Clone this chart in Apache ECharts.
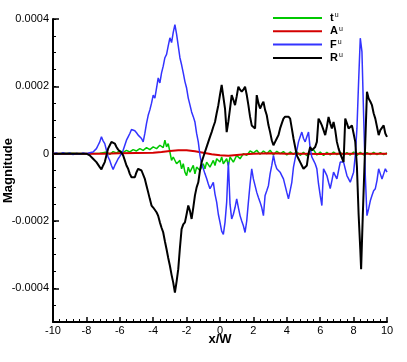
<!DOCTYPE html>
<html>
<head>
<meta charset="utf-8">
<script src="https://cdn.jsdelivr.net/npm/echarts@6/dist/echarts.min.js"></script>
<style>
  html, body { margin: 0; padding: 0; background: #fff; }
  #chart { width: 407px; height: 362px; }
</style>
</head>
<body>
<div id="chart"></div>
<script>
// values, y in units of 1e-4
var yUnit = 1e-4;
var xTicks = [-10, -8, -6, -4, -2, 0, 2, 4, 6, 8, 10];
var yTicks = [-0.0004, -0.0002, 0, 0.0002, 0.0004];
var seriesNames = ['t', 'A', 'F', 'R'];

var tData = [
  [-10, 0], [-9, 0.01], [-8, 0], [-7.2, 0.01], [-7.0, 0.03], [-6.8, 0.05], [-6.6, -0.02], [-6.4, 0.06],
  [-6.2, 0.02], [-6.0, 0.08], [-5.8, 0.04], [-5.6, 0.1], [-5.4, 0.05], [-5.2, 0.12], [-5.0, 0.08],
  [-4.8, 0.15], [-4.6, 0.1], [-4.4, 0.18], [-4.2, 0.12], [-4.0, 0.2], [-3.8, 0.15], [-3.6, 0.25],
  [-3.4, 0.18], [-3.3, 0.4], [-3.2, 0.2], [-3.1, 0.3], [-3.0, 0.05], [-2.9, -0.2], [-2.8, -0.1],
  [-2.6, -0.3], [-2.4, -0.2], [-2.3, -0.45], [-2.2, -0.3], [-2.1, -0.55], [-2.0, -0.65], [-1.9, -0.4],
  [-1.8, -0.55], [-1.6, -0.35], [-1.5, -0.6], [-1.4, -0.4], [-1.2, -0.5], [-1.0, -0.3], [-0.9, -0.45],
  [-0.8, -0.25], [-0.6, -0.4], [-0.4, -0.2], [-0.3, -0.35], [-0.2, -0.15], [0.0, -0.25], [0.1, -0.1],
  [0.2, -0.3], [0.4, -0.15], [0.5, -0.35], [0.6, -0.1], [0.8, -0.25], [1.0, -0.05], [1.2, -0.15],
  [1.4, 0.0], [1.6, -0.05], [1.8, 0.08], [2.0, 0.02], [2.2, 0.1], [2.4, -0.02], [2.6, 0.08], [2.8, 0.0],
  [3.0, 0.1], [3.2, -0.03], [3.4, 0.07], [3.6, 0.0], [3.8, 0.06], [4.0, -0.04], [4.2, 0.05], [4.4, -0.02],
  [4.6, 0.06], [4.8, -0.05], [5.0, 0.04], [5.2, -0.06], [5.4, 0.08], [5.6, 0.12], [5.8, -0.04], [6.0, 0.05],
  [6.2, -0.05], [6.4, 0.04], [6.6, -0.04], [6.8, 0.05], [7.0, -0.03], [7.2, 0.04], [7.4, -0.04], [7.6, 0.03],
  [7.8, -0.04], [8.0, 0.05], [8.2, -0.05], [8.4, 0.04], [8.6, -0.04], [8.8, 0.03], [9.0, -0.03], [9.2, 0.04],
  [9.4, -0.03], [9.6, 0.03], [9.8, -0.03], [10.0, 0.02]
];

var aData = [
  [-10, 0], [-7, 0], [-6, 0.01], [-5, 0.02], [-4, 0.03], [-3.5, 0.05], [-3, 0.08], [-2.5, 0.1],
  [-2, 0.1], [-1.5, 0.07], [-1, 0.03], [-0.5, -0.02], [0, -0.05], [0.5, -0.06], [1, -0.04],
  [1.5, -0.02], [2, 0], [3, 0.01], [4, 0], [5, 0], [6, -0.01], [7, 0], [8, 0], [9, 0], [10, 0]
];

var fData = [
  [-10, 0], [-9.8, 0.02], [-9.6, -0.02], [-9.4, 0.03], [-9.2, -0.01], [-9.0, 0.02], [-8.8, -0.03],
  [-8.6, 0.01], [-8.4, -0.02], [-8.2, 0.02], [-8.0, 0], [-7.8, 0.03], [-7.6, 0.05], [-7.4, 0.15],
  [-7.3, 0.25], [-7.2, 0.35], [-7.1, 0.5], [-7.0, 0.38], [-6.9, 0.3], [-6.8, 0.1], [-6.7, -0.1],
  [-6.6, -0.2], [-6.5, -0.35], [-6.4, -0.47], [-6.3, -0.35], [-6.2, -0.25], [-6.1, -0.15], [-6.0, -0.08],
  [-5.9, -0.03], [-5.8, 0.1], [-5.7, 0.25], [-5.6, 0.4], [-5.5, 0.5], [-5.4, 0.6], [-5.3, 0.72],
  [-5.2, 0.75], [-5.1, 0.68], [-5.0, 0.62], [-4.9, 0.55], [-4.8, 0.6], [-4.7, 0.45], [-4.6, 0.35],
  [-4.5, 0.6], [-4.4, 0.9], [-4.3, 1.14], [-4.2, 1.3], [-4.1, 1.5], [-4.0, 1.74], [-3.9, 1.65],
  [-3.8, 1.95], [-3.7, 2.25], [-3.6, 2.1], [-3.5, 2.4], [-3.4, 2.6], [-3.3, 2.85], [-3.2, 2.95],
  [-3.1, 3.2], [-3.0, 3.44], [-2.9, 3.3], [-2.8, 3.6], [-2.7, 3.83], [-2.6, 3.55], [-2.5, 3.2],
  [-2.4, 2.85], [-2.3, 2.64], [-2.2, 2.4], [-2.1, 2.14], [-2.0, 1.95], [-1.9, 1.65], [-1.8, 1.45],
  [-1.7, 1.24], [-1.6, 1.1], [-1.5, 0.94], [-1.4, 0.6], [-1.3, 0.35], [-1.2, -0.05], [-1.1, -0.3],
  [-1.0, -0.44], [-0.9, -0.6], [-0.8, -0.74], [-0.7, -0.9], [-0.6, -1.04], [-0.5, -0.95], [-0.4, -0.85],
  [-0.3, -1.2], [-0.2, -1.44], [-0.1, -1.8], [0.0, -2.04], [0.1, -2.3], [0.2, -2.4], [0.3, -2.04],
  [0.4, -1.44], [0.5, -0.25], [0.6, -1.5], [0.7, -1.94], [0.8, -1.8], [0.9, -1.6], [1.0, -1.34],
  [1.1, -1.6], [1.2, -1.84], [1.3, -2.0], [1.4, -2.14], [1.5, -2.34], [1.6, -2.0], [1.7, -1.44],
  [1.8, -0.9], [1.9, -0.45], [2.0, -0.75], [2.1, -0.95], [2.2, -1.15], [2.3, -1.3], [2.4, -1.44],
  [2.5, -1.6], [2.6, -1.84], [2.7, -1.24], [2.8, -1.1], [2.9, -0.95], [3.0, -0.6], [3.1, -0.35],
  [3.2, -0.05], [3.3, -0.3], [3.4, -0.45], [3.5, -0.5], [3.6, -0.55], [3.7, -0.65], [3.8, -0.75],
  [3.9, -0.95], [4.0, -1.15], [4.1, -1.34], [4.2, -1.1], [4.3, -0.85], [4.4, -0.4], [4.5, -0.15],
  [4.6, 0.1], [4.7, 0.35], [4.8, 0.5], [4.9, 0.64], [5.0, 0.45], [5.1, 0.35], [5.2, 0.5], [5.3, 0.64],
  [5.4, 0.15], [5.5, -0.1], [5.6, -0.2], [5.7, -0.3], [5.8, -0.45], [5.9, -0.9], [6.0, -1.24],
  [6.1, -1.54], [6.2, -0.45], [6.3, -0.55], [6.4, -0.65], [6.5, -0.85], [6.6, -1.04], [6.7, -0.8],
  [6.8, -0.55], [6.9, -0.65], [7.0, -0.75], [7.1, -0.5], [7.2, -0.25], [7.3, -0.2], [7.4, -0.25],
  [7.5, -0.45], [7.6, -0.65], [7.7, -0.75], [7.8, -0.85], [7.9, -0.7], [8.0, -0.55], [8.1, -0.05],
  [8.2, 0.75], [8.3, 2.14], [8.4, 3.43], [8.5, 3.03], [8.6, 1.14], [8.7, -0.65], [8.8, -1.84],
  [8.9, -1.64], [9.0, -1.4], [9.1, -1.24], [9.2, -1.1], [9.3, -1.04], [9.4, -0.8], [9.5, -0.45],
  [9.6, -0.6], [9.7, -0.75], [9.8, -0.6], [9.9, -0.45], [10.0, -0.55]
];

var rData = [
  [-10, 0], [-9, 0], [-8.0, 0], [-7.8, -0.05], [-7.6, -0.15], [-7.4, -0.25], [-7.3, -0.3], [-7.2, -0.4],
  [-7.1, -0.47], [-7.0, -0.35], [-6.9, -0.25], [-6.8, -0.05], [-6.7, 0.15], [-6.6, 0.25], [-6.5, 0.35],
  [-6.4, 0.4], [-6.3, 0.3], [-6.2, 0.2], [-6.1, 0.12], [-6.0, 0.08], [-5.9, 0.03], [-5.8, -0.05],
  [-5.7, -0.2], [-5.6, -0.35], [-5.5, -0.45], [-5.4, -0.6], [-5.3, -0.7], [-5.2, -0.73], [-5.1, -0.7],
  [-5.0, -0.55], [-4.9, -0.45], [-4.8, -0.4], [-4.7, -0.5], [-4.6, -0.55], [-4.5, -0.75], [-4.4, -0.95],
  [-4.3, -1.15], [-4.2, -1.35], [-4.1, -1.54], [-4.0, -1.6], [-3.9, -1.65], [-3.8, -1.74], [-3.7, -1.85],
  [-3.6, -2.04], [-3.5, -2.2], [-3.4, -2.34], [-3.3, -2.6], [-3.2, -2.84], [-3.1, -3.1], [-3.0, -3.33],
  [-2.9, -3.6], [-2.8, -3.83], [-2.7, -4.13], [-2.6, -3.8], [-2.5, -3.43], [-2.4, -2.8], [-2.3, -2.24],
  [-2.2, -2.1], [-2.1, -2.04], [-2.0, -1.8], [-1.9, -1.54], [-1.8, -1.7], [-1.7, -1.94], [-1.6, -1.6],
  [-1.5, -1.24], [-1.4, -1.0], [-1.3, -0.85], [-1.2, -0.5], [-1.1, -0.25], [-1.0, -0.1], [-0.9, -0.05],
  [-0.8, 0.2], [-0.7, 0.35], [-0.6, 0.5], [-0.5, 0.64], [-0.4, 0.8], [-0.3, 0.94], [-0.2, 1.2],
  [-0.1, 1.44], [0.0, 1.75], [0.1, 2.04], [0.2, 2.09], [0.3, 1.34], [0.4, 0.64], [0.5, 0.95], [0.6, 1.34],
  [0.7, 1.74], [0.8, 1.6], [0.9, 1.44], [1.0, 1.7], [1.1, 1.99], [1.2, 1.9], [1.3, 1.84], [1.4, 1.9],
  [1.5, 1.99], [1.6, 1.75], [1.7, 1.44], [1.8, 1.1], [1.9, 0.84], [2.0, 0.8], [2.1, 0.75], [2.2, 1.74],
  [2.3, 1.5], [2.4, 1.34], [2.5, 1.45], [2.6, 1.54], [2.7, 1.3], [2.8, 1.14], [2.9, 0.85], [3.0, 0.64],
  [3.1, 0.4], [3.2, 0.25], [3.3, 0.35], [3.4, 0.45], [3.5, 0.55], [3.6, 0.75], [3.7, 0.9], [3.8, 1.04],
  [3.9, 1.1], [4.0, 1.14], [4.1, 1.1], [4.2, 1.04], [4.3, 0.75], [4.4, 0.45], [4.5, 0.2], [4.6, -0.05],
  [4.7, -0.15], [4.8, -0.25], [4.9, -0.35], [5.0, -0.45], [5.1, -0.4], [5.2, -0.35], [5.3, 0.0],
  [5.4, 0.2], [5.5, 0.1], [5.6, 0.05], [5.7, 0.2], [5.8, 0.35], [5.9, 1.04], [6.0, 0.95], [6.1, 0.84],
  [6.2, 0.7], [6.3, 0.55], [6.4, 0.8], [6.5, 1.09], [6.6, 0.9], [6.7, 0.75], [6.8, 0.94], [6.9, 0.7],
  [7.0, 0.35], [7.1, 0.15], [7.2, 0.0], [7.3, -0.05], [7.4, -0.25], [7.5, 1.04], [7.6, 0.9], [7.7, 0.75],
  [7.8, 0.8], [7.9, 0.84], [8.0, 0.6], [8.1, 0.35], [8.2, -0.4], [8.3, -1.8], [8.4, -2.84], [8.45, -3.43],
  [8.55, -1.84], [8.7, 0.35], [8.8, 1.84], [8.9, 1.64], [9.0, 1.55], [9.1, 1.44], [9.2, 1.2], [9.3, 1.04],
  [9.4, 0.8], [9.5, 0.55], [9.6, 0.7], [9.7, 0.75], [9.8, 0.84], [9.9, 0.6], [10.0, 0.5]
];

function scaled(arr) {
  return arr.map(function (p) { return [p[0], p[1] * yUnit]; });
}

var myChart = echarts.init(document.getElementById('chart'));
var font = 'Liberation Sans, Arial, Helvetica, sans-serif';

myChart.setOption({
  animation: false,
  backgroundColor: '#fff',
  textStyle: { fontFamily: font },
  grid: { left: 53, right: 20, top: 19, bottom: 40, outerBoundsMode: 'none' },
  legend: {
    orient: 'vertical',
    left: 272,
    top: 12,
    padding: 0,
    itemWidth: 49,
    itemHeight: 10,
    itemGap: 1.8,
    data: seriesNames,
    itemStyle: { opacity: 0 },
    formatter: function (name) { return '{b|' + name + '}{s|u}'; },
    textStyle: {
      padding: [0, 0, 0, 3],
      rich: {
        b: { fontFamily: font, fontWeight: 'bold', fontSize: 11, lineHeight: 12, color: '#000' },
        s: { fontFamily: font, fontSize: 7, lineHeight: 7, verticalAlign: 'top', color: '#000', padding: [0, 0, 0, 1] }
      }
    }
  },
  xAxis: {
    type: 'value',
    min: -10,
    max: 10,
    interval: 2,
    name: 'x/W',
    nameLocation: 'middle',
    nameGap: 11,
    nameMoveOverlap: false,
    nameTextStyle: { fontFamily: font, fontWeight: 'bold', fontSize: 13, color: '#000' },
    axisLine: { show: true, onZero: false, lineStyle: { color: '#000', width: 2 } },
    axisTick: { show: true, inside: true, length: 5, lineStyle: { color: '#000', width: 1.5 } },
    minorTick: { show: true, splitNumber: 5, length: 3, lineStyle: { color: '#000', width: 1 } },
    axisLabel: { margin: 3, fontSize: 11, color: '#000', fontFamily: font, customValues: xTicks },
    splitLine: { show: false }
  },
  yAxis: [{
    type: 'value',
    min: -0.0005,
    max: 0.0004,
    name: 'Magnitude',
    nameLocation: 'middle',
    nameGap: 38,
    nameMoveOverlap: false,
    nameTextStyle: { fontFamily: font, fontWeight: 'bold', fontSize: 13, color: '#000' },
    axisLine: { show: true, onZero: false, lineStyle: { color: '#000', width: 2 } },
    axisTick: { show: true, inside: true, length: 6, customValues: yTicks, lineStyle: { color: '#000', width: 1.5 } },
    axisLabel: {
      margin: 4, fontSize: 11, color: '#000', fontFamily: font,
      customValues: yTicks,
      formatter: function (v) { return v === 0 ? '0' : String(v); }
    },
    splitLine: { show: false }
  }, {
    // minor ticks only
    type: 'value',
    position: 'left',
    min: -0.0005,
    max: 0.0004,
    interval: 0.00005,
    axisLine: { show: false, onZero: false },
    axisTick: { show: true, inside: true, length: 3, lineStyle: { color: '#000', width: 1 } },
    axisLabel: { show: false },
    splitLine: { show: false }
  }],
  series: [
    { name: 't', type: 'line', symbol: 'none', data: scaled(tData), color: '#00c800', lineStyle: { width: 1.5, color: '#00c800' } },
    { name: 'A', type: 'line', symbol: 'none', data: scaled(aData), color: '#d40000', lineStyle: { width: 2, color: '#d40000' } },
    { name: 'F', type: 'line', symbol: 'none', data: scaled(fData), color: '#3333ff', lineStyle: { width: 1.5, color: '#3333ff' } },
    { name: 'R', type: 'line', symbol: 'none', data: scaled(rData), color: '#000', lineStyle: { width: 2, color: '#000' } }
  ]
});
</script>
</body>
</html>
